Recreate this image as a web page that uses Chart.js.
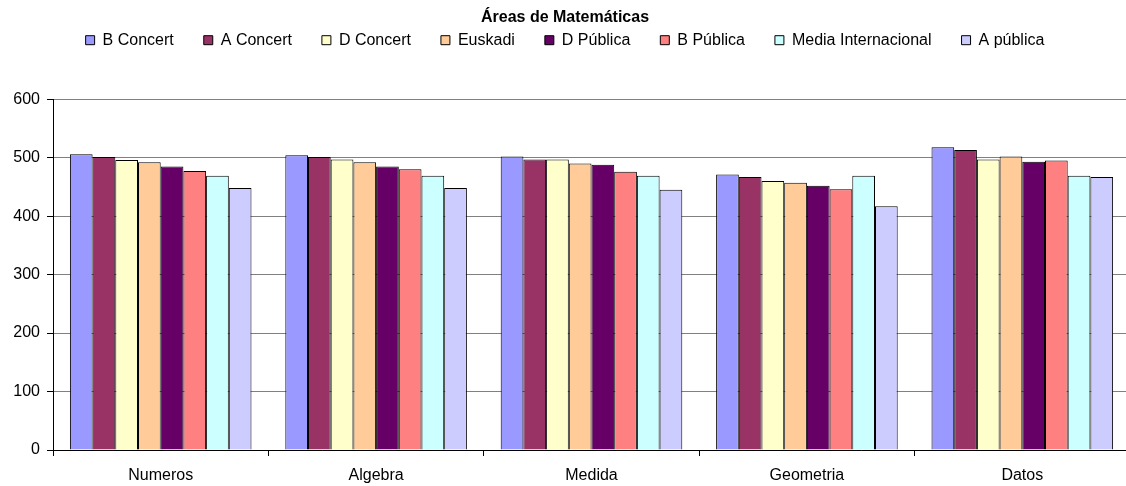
<!DOCTYPE html>
<html lang="es">
<head>
<meta charset="utf-8">
<title>Áreas de Matemáticas</title>
<script src="https://cdn.jsdelivr.net/npm/chart.js@4.4.1/dist/chart.umd.min.js"></script>
<style>
    html, body { margin: 0; padding: 0; background: #fff; overflow: hidden; }
    #chart { display: block; }
</style>
</head>
<body>
<canvas id="chart" width="1131" height="486"></canvas>
<script>
"use strict";

const areas = ["Numeros", "Algebra", "Medida", "Geometria", "Datos"];

const bConcert = [506, 504, 502, 471, 518];
const aConcert = [501, 501, 497, 467, 513];
const dConcert = [496, 497, 497, 460, 497];
const euskadi = [492, 492, 490, 457, 502];
const dPublica = [485, 485, 488, 452, 493];
const bPublica = [477, 480, 476, 446, 495];
const mediaInternacional = [469, 469, 469, 469, 469];
const aPublica = [448, 448, 445, 417, 467];

const yTicks = [0, 100, 200, 300, 400, 500, 600];

const canvas = document.getElementById("chart");
const textFont = "'Liberation Sans', Arial, sans-serif";

function serie(label, data, color) {
    return {
        label: label,
        data: data,
        backgroundColor: color,
        borderColor: "#000",
        borderWidth: 1,
        categoryPercentage: 0.843,
        barPercentage: 1
    };
}

// extra room between the legend and the plot
const legendGap = {
    id: "legendGap",
    beforeInit(chart) {
        const fit = chart.legend.fit;
        chart.legend.fit = function () {
            fit.bind(chart.legend)();
            this.height += 41;
        };
    }
};

new Chart(canvas, {
    type: "bar",
    data: {
        labels: areas,
        datasets: [
            serie("B Concert", bConcert, "#9999FF"),
            serie("A Concert", aConcert, "#993366"),
            serie("D Concert", dConcert, "#FFFFCC"),
            serie("Euskadi", euskadi, "#FFCC99"),
            serie("D Pública", dPublica, "#660066"),
            serie("B Pública", bPublica, "#FF8080"),
            serie("Media Internacional", mediaInternacional, "#CCFFFF"),
            serie("A pública", aPublica, "#CCCCFF")
        ]
    },
    options: {
        responsive: false,
        animation: false,
        layout: { padding: { left: 0, right: 1, top: 0, bottom: 0 } },
        plugins: {
            title: {
                display: true,
                text: "Áreas de Matemáticas",
                color: "#000",
                font: { family: textFont, size: 16, weight: "bold" },
                padding: { top: 8, bottom: -25 }
            },
            legend: {
                position: "top",
                labels: {
                    color: "#000",
                    font: { family: textFont, size: 16 },
                    boxWidth: 9,
                    boxHeight: 9,
                    padding: 30
                }
            },
            tooltip: { enabled: false }
        },
        scales: {
            x: {
                afterFit(scale) { scale.height = 36; },
                grid: {
                    offset: true,
                    drawOnChartArea: false,
                    drawTicks: true,
                    tickLength: 6,
                    color: "#000"
                },
                border: { color: "#000", width: 1 },
                ticks: {
                    color: "#000",
                    font: { family: textFont, size: 16 },
                    padding: 10,
                    maxRotation: 0
                }
            },
            y: {
                min: 0,
                max: 600,
                afterFit(scale) { scale.width = 53; },
                afterBuildTicks(scale) {
                    scale.ticks = yTicks.map(v => ({ value: v }));
                },
                grid: {
                    color: "#808080",
                    tickColor: "#000",
                    tickLength: 6,
                    lineWidth: 1
                },
                border: { color: "#000", width: 1 },
                ticks: {
                    color: "#000",
                    font: { family: textFont, size: 16 },
                    padding: 7
                }
            }
        }
    },
    plugins: [legendGap]
});
</script>
</body>
</html>
